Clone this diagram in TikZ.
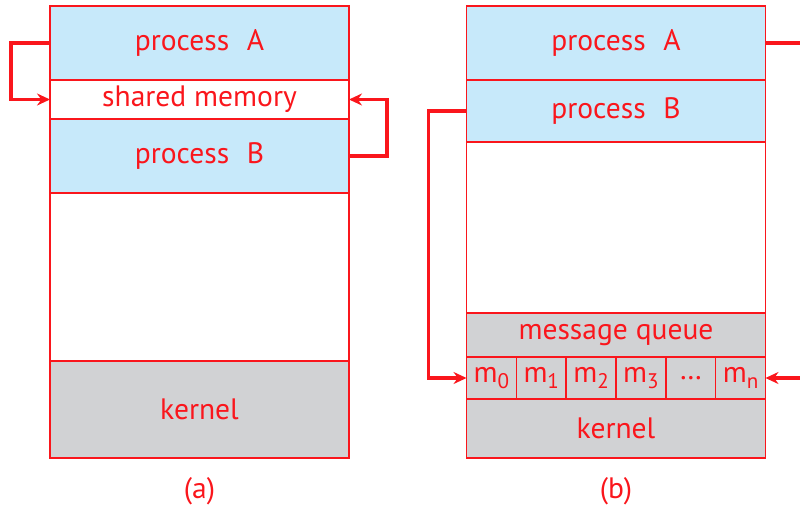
\documentclass[tikz,border=0pt]{standalone}
\usepackage{fontspec}
\setmainfont{PT Sans}
\usetikzlibrary{arrows.meta,positioning}
\newlength{\px}\setlength{\px}{0.025cm}
\definecolor{ink}{RGB}{250,22,28}
\definecolor{procblue}{RGB}{199,233,250}
\definecolor{kergray}{RGB}{209,210,212}
\newcommand{\msub}[1]{\raisebox{-0.4ex}{\fontsize{15}{15}\selectfont #1}}

\begin{document}
\begin{tikzpicture}[
  x=\px, y=-\px,
  node distance=0pt,
  blk/.style={draw=ink, line width=1pt, minimum width=299\px, outer sep=0pt, inner sep=0pt,
    text=ink, font=\fontsize{21}{24}\selectfont},
  proc/.style={blk, fill=procblue},
  kern/.style={blk, fill=kergray},
  cell/.style={kern, minimum width=49.83\px, minimum height=42\px},
  lbl/.style={text=ink, font=\fontsize{21}{24}\selectfont},
  arr/.style={-{Stealth[length=9.2pt,width=8.5pt]}, draw=ink, line width=2.3pt}
]
  \useasboundingbox (0,0) rectangle (800,507);

  % (a) shared memory
  \node[proc, minimum height=74\px] (procA) at (199.5,43) {process\hspace{0.6em}A};
  \node[blk, minimum height=39\px, below=of procA] (shm) {shared memory};
  \node[proc, minimum height=74\px, below=of shm] (procB) {process\hspace{0.6em}B};
  \node[blk, minimum height=168\px, below=of procB] (freeA) {};
  \node[kern, minimum height=97\px, below=of freeA] (kernA) {kernel};
  \node[lbl, below=14\px of kernA] (capA) {(a)};

  \draw[arr] (procA.west) -- ++(-39,0) |- (shm.west);
  \draw[arr] (procB.east) -- ++(38,0) |- (shm.east);

  % (b) message passing
  \node[proc, minimum height=74\px] (procA2) at (616,43) {process\hspace{0.6em}A};
  \node[proc, minimum height=62\px, below=of procA2] (procB2) {process\hspace{0.6em}B};
  \node[blk, minimum height=171\px, below=of procB2] (freeB) {};
  \node[kern, minimum height=44\px, below=of freeB] (mq) {message queue};
  \node[cell, anchor=north west] (m0) at (mq.south west) {m\msub{0}};
  \foreach \n/\t [remember=\n as \p (initially 0)] in
    {1/m\msub{1}, 2/m\msub{2}, 3/m\msub{3}, 4/\ldots, 5/m\msub{n}}
    \node[cell, right=of m\p] (m\n) {\t};
  \node[kern, minimum height=59\px, below=42\px of mq] (kernB) {kernel};
  \node[lbl, below=14\px of kernB] (capB) {(b)};

  \coordinate (offR) at (815,0);
  \draw[arr] (procB2.west) -- ++(-38,0) |- (m0.west);
  \draw[arr] (procA2.east) -- (procA2.east -| offR) |- (m5.east);
\end{tikzpicture}
\end{document}
